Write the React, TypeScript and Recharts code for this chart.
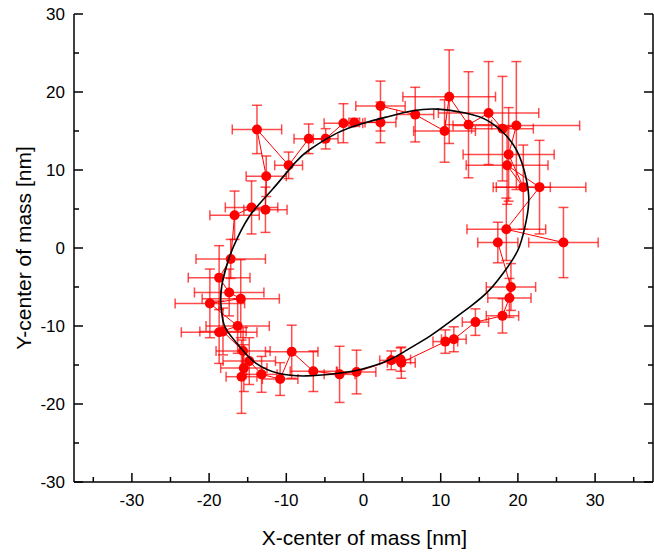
import React from 'react';
import { ScatterChart, Scatter, XAxis, YAxis, ErrorBar, Label } from 'recharts';

// Measured trajectory (nm), in order of the connecting line
const comX = [25.9, 18.5, 22.8, 18.6, 20.7, 18.8, 19.8, 18.0, 16.2, 13.6, 11.1, 10.5, 6.7, 2.2, 2.2, -1.2, -2.6, -4.9, -7.1, -9.7, -13.8, -12.6, -12.7, -14.5, -16.7, -17.2, -18.7, -17.4, -15.9, -19.9, -16.3, -18.7, -18.2, -15.6, -15.8, -15.5, -14.8, -13.2, -10.8, -9.3, -6.5, -3.1, -0.9, 3.6, 4.8, 4.9, 10.6, 11.7, 14.5, 18.0, 18.9, 19.1, 17.4];
const comY = [0.7, 2.4, 7.8, 10.6, 7.8, 12.0, 15.7, 15.3, 17.3, 15.8, 19.4, 15.0, 17.1, 18.2, 16.1, 16.1, 16.0, 14.0, 14.0, 10.6, 15.2, 9.2, 4.9, 5.2, 4.2, -1.4, -3.8, -5.7, -6.5, -7.1, -10.0, -10.8, -10.7, -13.2, -16.5, -15.4, -14.5, -16.2, -16.8, -13.3, -15.8, -16.2, -15.9, -14.4, -14.3, -14.7, -12.0, -11.7, -9.5, -8.7, -6.4, -5.0, 0.7];
const errX = [4.5, 5.1, 6.0, 5.3, 3.5, 5.9, 8.2, 4.0, 6.5, 3.0, 6.0, 4.0, 2.4, 3.2, 2.0, 0.7, 2.5, 1.6, 1.9, 1.8, 3.2, 2.6, 2.8, 3.4, 3.2, 4.5, 4.0, 4.5, 5.0, 4.5, 4.1, 4.9, 3.0, 3.5, 2.0, 3.0, 3.4, 2.0, 2.3, 3.4, 3.0, 2.0, 2.5, 1.5, 1.3, 1.8, 1.6, 1.6, 1.7, 2.1, 2.8, 3.2, 2.6];
const errY = [4.5, 4.0, 6.0, 5.0, 5.4, 6.0, 8.2, 6.7, 6.6, 6.8, 6.0, 4.0, 3.5, 3.2, 2.6, 0.5, 2.5, 1.3, 1.9, 1.7, 3.1, 2.6, 2.9, 3.4, 3.1, 2.5, 4.1, 3.0, 5.0, 4.4, 3.5, 4.0, 3.0, 3.0, 4.7, 3.0, 3.0, 2.3, 2.1, 3.4, 2.6, 3.6, 2.8, 1.2, 1.5, 2.0, 1.5, 1.6, 1.7, 2.2, 2.5, 3.0, 2.6];

// Fitted ellipse, points
const ellipseX = [-18.5, -18.3, -17.5, -16.25, -14.5, -11.9, -8.9, -7.0, -3.5, 0.0, 3.4, 6.4, 9.6, 13.2, 16.3, 19.3, 20.8, 21.4, 21.1, 20.2, 18.7, 16.3, 13.7, 11.0, 8.6, 5.6, 3.0, -0.5, -4.0, -7.4, -10.9, -13.9, -16.0, -17.75, -18.3, -18.5, -18.3, -17.5];
const ellipseY = [-6.7, -4.5, -1.5, 1.45, 4.45, 7.4, 10.9, 12.6, 14.7, 16.0, 16.9, 17.6, 17.8, 17.3, 16.2, 13.4, 10.0, 6.6, 3.6, 0.2, -2.4, -5.4, -7.6, -9.6, -11.3, -13.1, -14.5, -15.6, -16.15, -16.4, -16.1, -14.8, -12.7, -10.5, -8.8, -6.7, -4.5, -1.5];

const xTicks = [-35, -30, -25, -20, -15, -10, -5, 0, 5, 10, 15, 20, 25, 30, 35];
const yTicks = [-30, -25, -20, -15, -10, -5, 0, 5, 10, 15, 20, 25, 30];

const points = comX.map((x, i) => ({ x, y: comY[i], ex: errX[i], ey: errY[i] }));
const ellipse = ellipseX.map((x, i) => ({ x, y: ellipseY[i] }));

// layout
const W = 654;
const H = 553;
const M_TOP = 14;
const M_LEFT = 14;
const M_BOTTOM = 21;
const Y_AXIS_W = 60;
const X_AXIS_H = 50;
const PLOT_LEFT = M_LEFT + Y_AXIS_W; // 74
const PLOT_TOP = M_TOP; // 14
const PLOT_BOTTOM = H - M_BOTTOM - X_AXIS_H; // 482
const PLOT_RIGHT = W - 1; // 653

const FONT = '"Liberation Sans", Arial, sans-serif';
const isMajor = (v: number) => v % 10 === 0;

const BottomTick = (p: any) => {
  const v = p.payload.value;
  const m = isMajor(v);
  return (
    <g>
      <line x1={p.x} x2={p.x} y1={PLOT_BOTTOM} y2={PLOT_BOTTOM - (m ? 9 : 5)} stroke="#000" strokeWidth={1.5} />
      {m && (
        <text x={p.x} y={PLOT_BOTTOM + 24} textAnchor="middle" fontSize={17} fontFamily={FONT} fill="#000">
          {String(v)}
        </text>
      )}
    </g>
  );
};
const TopTick = (p: any) => {
  const m = isMajor(p.payload.value);
  return <line x1={p.x} x2={p.x} y1={PLOT_TOP} y2={PLOT_TOP + (m ? 9 : 5)} stroke="#000" strokeWidth={1.5} />;
};
const LeftTick = (p: any) => {
  const v = p.payload.value;
  const m = isMajor(v);
  return (
    <g>
      <line x1={PLOT_LEFT} x2={PLOT_LEFT + (m ? 9 : 5)} y1={p.y} y2={p.y} stroke="#000" strokeWidth={1.5} />
      {m && (
        <text x={PLOT_LEFT - 9} y={p.y} dy="0.36em" textAnchor="end" fontSize={17} fontFamily={FONT} fill="#000">
          {String(v)}
        </text>
      )}
    </g>
  );
};
const RightTick = (p: any) => {
  const m = isMajor(p.payload.value);
  return <line x1={PLOT_RIGHT} x2={PLOT_RIGHT - (m ? 9 : 5)} y1={p.y} y2={p.y} stroke="#000" strokeWidth={1.5} />;
};

const XTitle = () => (
  <text x={(PLOT_LEFT + PLOT_RIGHT) / 2 + 1} y={545} textAnchor="middle" fontSize={21} fontFamily={FONT} fill="#000">
    X-center of mass [nm]
  </text>
);
const YTitle = () => (
  <text
    x={31}
    y={(PLOT_TOP + PLOT_BOTTOM) / 2}
    transform={`rotate(-90 31 ${(PLOT_TOP + PLOT_BOTTOM) / 2})`}
    textAnchor="middle"
    fontSize={21}
    fontFamily={FONT}
    fill="#000"
  >
    Y-center of mass [nm]
  </text>
);

const Dot = (p: any) => <circle cx={p.cx} cy={p.cy} r={5} fill="#ff0000" />;
const NoDot = () => <g />;

export default function App() {
  return (
    <div style={{ position: 'absolute', left: 0, top: 0, width: W, height: H, background: '#fff' }}>
      <ScatterChart width={W} height={H} margin={{ top: M_TOP, right: 0, bottom: M_BOTTOM, left: M_LEFT }}>
        <XAxis
          xAxisId="b"
          type="number"
          dataKey="x"
          domain={[-37.5, 37.5]}
          ticks={xTicks}
          allowDataOverflow
          height={X_AXIS_H}
          tickLine={false}
          tick={<BottomTick />}
          interval={0}
          axisLine={{ stroke: '#000', strokeWidth: 1.5 }}
        >
          <Label content={<XTitle />} />
        </XAxis>
        <XAxis
          xAxisId="t"
          orientation="top"
          type="number"
          dataKey="x"
          domain={[-37.5, 37.5]}
          ticks={xTicks}
          allowDataOverflow
          height={0}
          tickLine={false}
          tick={<TopTick />}
          interval={0}
          axisLine={{ stroke: '#000', strokeWidth: 1.5 }}
        />
        <YAxis
          yAxisId="l"
          type="number"
          dataKey="y"
          domain={[-30, 30]}
          ticks={yTicks}
          allowDataOverflow
          width={Y_AXIS_W}
          tickLine={false}
          tick={<LeftTick />}
          interval={0}
          axisLine={{ stroke: '#000', strokeWidth: 1.5 }}
        >
          <Label content={<YTitle />} />
        </YAxis>
        <YAxis
          yAxisId="r"
          orientation="right"
          type="number"
          dataKey="y"
          domain={[-30, 30]}
          ticks={yTicks}
          allowDataOverflow
          width={1}
          tickLine={false}
          tick={<RightTick />}
          interval={0}
          axisLine={{ stroke: '#000', strokeWidth: 1.5 }}
        />
        <Scatter
          xAxisId="b"
          yAxisId="l"
          data={points}
          isAnimationActive={false}
          shape={<Dot />}
          line={{ stroke: '#ff0000', strokeWidth: 1 }}
        >
          <ErrorBar dataKey="ex" direction="x" width={5} stroke="#ff0000" strokeOpacity={0.7} strokeWidth={1.5} isAnimationActive={false} />
          <ErrorBar dataKey="ey" direction="y" width={5} stroke="#ff0000" strokeOpacity={0.7} strokeWidth={1.5} isAnimationActive={false} />
        </Scatter>
        <Scatter
          xAxisId="t"
          yAxisId="r"
          data={ellipse}
          isAnimationActive={false}
          shape={<NoDot />}
          line={{ stroke: '#000', strokeWidth: 1.6 }}
          lineJointType="natural"
        />
      </ScatterChart>
    </div>
  );
}
